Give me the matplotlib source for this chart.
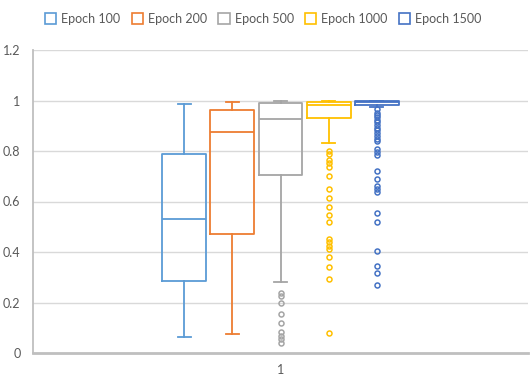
import matplotlib.pyplot as plt
from matplotlib.patches import Patch

plt.rcParams['font.family'] = ['Lato', 'DejaVu Sans']

labels = ['Epoch 100', 'Epoch 200', 'Epoch 500', 'Epoch 1000', 'Epoch 1500']
colors = ['#5B9BD5', '#ED7D31', '#A5A5A5', '#FFC000', '#4472C4']

# five-number summaries
whislo = [0.065, 0.076, 0.282, 0.83, 0.976]
q1 = [0.286, 0.472, 0.705, 0.93, 0.984]
med = [0.53, 0.876, 0.927, 0.982, 0.996]
q3 = [0.79, 0.962, 0.989, 0.996, 1.0]
whishi = [0.986, 0.995, 0.998, 1.0, 1.0]

outliers = [
    [],
    [],
    [0.239, 0.227, 0.197, 0.153, 0.120, 0.084, 0.069, 0.054, 0.038],
    [0.80, 0.788, 0.764, 0.751, 0.738, 0.70, 0.648, 0.613, 0.580, 0.545,
     0.518, 0.451, 0.438, 0.425, 0.411, 0.381, 0.339, 0.292, 0.079],
    [0.965, 0.952, 0.943, 0.933, 0.924, 0.913, 0.903, 0.892, 0.882, 0.871,
     0.859, 0.849, 0.838, 0.807, 0.796, 0.785, 0.721, 0.689, 0.663, 0.649,
     0.638, 0.554, 0.52, 0.404, 0.345, 0.317, 0.27],
]

yticks = [0, 0.2, 0.4, 0.6, 0.8, 1, 1.2]
ytick_labels = ['0', '0.2', '0.4', '0.6', '0.8', '1', '1.2']


def main():
    fig = plt.figure(figsize=(5.3, 3.76), dpi=100)
    ax = fig.add_axes([33 / 530, 23 / 376, 495 / 530, 303 / 376])

    step = 0.0972
    width = 0.0885
    for i, c in enumerate(colors):
        stats = [dict(whislo=whislo[i], q1=q1[i], med=med[i], q3=q3[i],
                      whishi=whishi[i], fliers=outliers[i])]
        pos = 1 + (i - 2) * step
        ax.bxp(stats, positions=[pos], widths=width, capwidths=0.026,
               showfliers=True, manage_ticks=False,
               boxprops=dict(color=c, linewidth=1.3),
               medianprops=dict(color=c, linewidth=1.3),
               whiskerprops=dict(color=c, linewidth=1.3),
               capprops=dict(color=c, linewidth=1.3),
               flierprops=dict(marker='o', markerfacecolor='none',
                               markeredgecolor=c, markersize=3.6,
                               markeredgewidth=1.1, linestyle='none'))

    ax.set_xlim(0.5, 1.5)
    ax.set_ylim(0, 1.2)
    ax.set_yticks(yticks)
    ax.set_yticklabels(ytick_labels)
    ax.set_xticks([1])
    ax.set_xticklabels(['1'])
    ax.tick_params(axis='both', length=0, labelsize=9, colors='#595959')
    ax.tick_params(axis='y', pad=9)
    ax.tick_params(axis='x', pad=8)
    ax.grid(True, axis='y', color='#D9D9D9', linewidth=1)
    ax.set_axisbelow(True)
    for s in ['top', 'right']:
        ax.spines[s].set_visible(False)
    ax.spines['left'].set_color('#BFBFBF')
    ax.spines['left'].set_linewidth(1.3)
    ax.spines['bottom'].set_color('#BFBFBF')
    ax.spines['bottom'].set_linewidth(2)

    handles = [Patch(facecolor='white', edgecolor=c, linewidth=1.2, label=l)
               for c, l in zip(colors, labels)]
    fig.legend(handles=handles, loc='center', bbox_to_anchor=(0.497, 0.95),
               ncol=5, frameon=False, fontsize=9, labelcolor='#595959',
               handlelength=0.9, handleheight=0.9, handletextpad=0.4,
               columnspacing=0.9)

    fig.savefig('out.png', dpi=100)


if __name__ == "__main__":
    main()
